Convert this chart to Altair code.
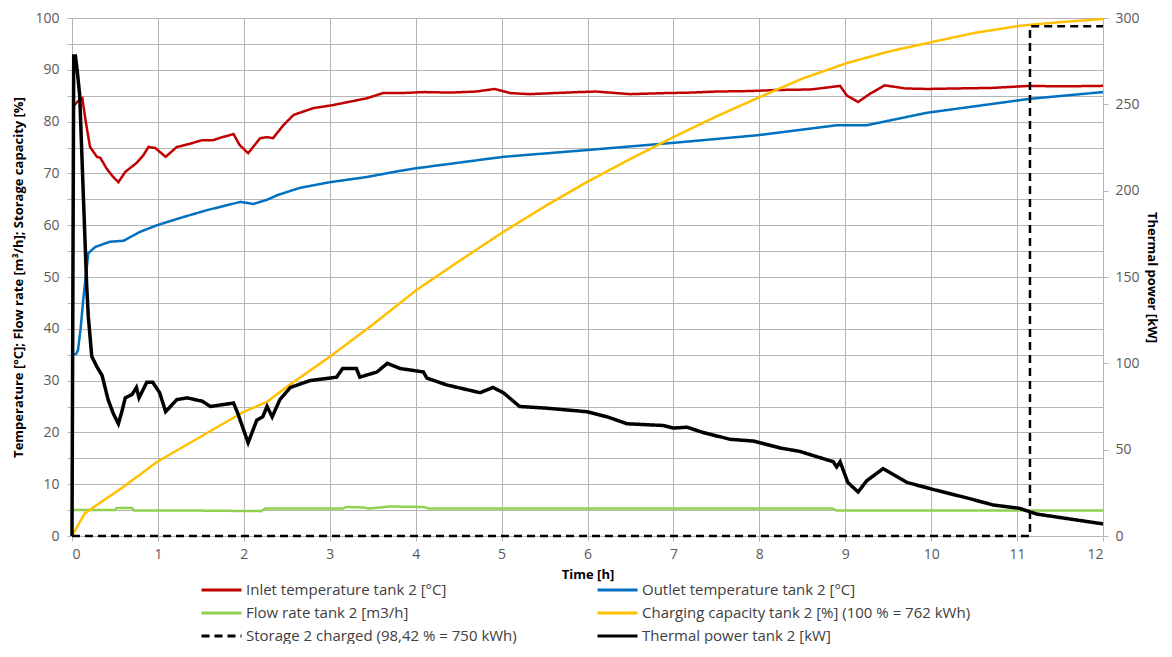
import altair as alt
import pandas as pd

# ---------------- data ----------------
inlet_t = [0.01, 0.06, 0.12, 0.16, 0.21, 0.29, 0.33, 0.40, 0.47, 0.54, 0.62, 0.75, 0.83, 0.89, 0.97,
           1.09, 1.22, 1.37, 1.51, 1.64, 1.75, 1.84, 1.88, 1.95, 2.05, 2.19, 2.27, 2.34, 2.46, 2.58,
           2.81, 3.04, 3.43, 3.62, 3.82, 4.1, 4.4, 4.7, 4.92, 5.1, 5.33, 5.6, 5.9, 6.1, 6.5, 6.9,
           7.2, 7.5, 7.9, 8.2, 8.6, 8.94, 9.02, 9.15, 9.3, 9.46, 9.7, 9.95, 10.3, 10.7, 11.15, 11.5, 12.0]
inlet_v = [82.8, 83.8, 84.5, 80.0, 75.1, 73.2, 73.0, 71.0, 69.5, 68.3, 70.3, 72.0, 73.5, 75.1, 74.9,
           73.2, 75.1, 75.7, 76.4, 76.4, 77.0, 77.4, 77.6, 75.5, 73.9, 76.8, 77.0, 76.8, 79.3, 81.3,
           82.6, 83.2, 84.5, 85.5, 85.5, 85.7, 85.6, 85.8, 86.3, 85.5, 85.3, 85.5, 85.7, 85.8, 85.3, 85.5,
           85.6, 85.8, 85.9, 86.1, 86.2, 86.9, 85.0, 83.8, 85.5, 87.0, 86.4, 86.3, 86.4, 86.5, 86.9, 86.8, 86.9]

outlet_t = [0.01, 0.05, 0.07, 0.10, 0.13, 0.19, 0.27, 0.44, 0.60, 0.79, 0.99, 1.26, 1.57, 1.96, 2.11,
            2.27, 2.39, 2.65, 3.0, 3.43, 3.82, 4.01, 5.02, 5.99, 7.0, 8.0, 8.9, 9.25, 9.95, 11.15, 12.0]
outlet_v = [35.0, 35.2, 35.9, 40.0, 45.5, 54.6, 55.8, 56.8, 57.0, 58.7, 60.0, 61.4, 62.9, 64.5, 64.1,
            64.9, 65.8, 67.2, 68.3, 69.3, 70.5, 71.0, 73.2, 74.5, 75.9, 77.4, 79.3, 79.3, 81.7, 84.4, 85.7]

flow_t = [0.0, 0.50, 0.52, 0.70, 0.72, 1.5, 2.2, 2.25, 3.15, 3.2, 3.4, 3.45, 3.7, 4.1, 4.15, 8.85, 8.9, 12.0]
flow_v = [5.0, 5.0, 5.4, 5.4, 4.9, 4.9, 4.8, 5.3, 5.3, 5.6, 5.5, 5.3, 5.7, 5.6, 5.3, 5.3, 4.9, 4.9]

charge_t = [0.0, 0.05, 0.15, 0.29, 0.6, 0.99, 1.49, 1.99, 2.27, 2.5, 3.0, 3.5, 4.01, 4.5, 5.02, 5.5,
            5.99, 6.5, 7.0, 7.5, 8.0, 8.5, 9.02, 9.5, 10.02, 10.5, 11.03, 11.5, 12.0]
charge_v = [0.0, 1.5, 4.4, 6.0, 9.5, 14.3, 19.1, 23.9, 25.9, 28.8, 34.6, 40.8, 47.5, 53.0, 58.7, 63.6,
            68.3, 72.8, 77.0, 81.0, 84.7, 88.3, 91.3, 93.5, 95.4, 97.1, 98.5, 99.2, 99.8]

stored_t = [0.0, 11.15, 11.15, 12.0]
stored_v = [0.0, 0.0, 98.42, 98.42]

power_t = [0.0, 0.02, 0.04, 0.06, 0.09, 0.13, 0.17, 0.19, 0.23, 0.29, 0.35, 0.42, 0.48, 0.54, 0.58,
           0.62, 0.70, 0.75, 0.78, 0.87, 0.94, 1.02, 1.09, 1.22, 1.34, 1.52, 1.61, 1.88, 1.93, 2.05,
           2.15, 2.22, 2.27, 2.33, 2.42, 2.54, 2.77, 3.08, 3.15, 3.31, 3.35, 3.55, 3.67, 3.82, 4.09,
           4.13, 4.36, 4.75, 4.90, 5.02, 5.21, 5.53, 5.99, 6.23, 6.46, 6.88, 7.0, 7.16, 7.34, 7.66,
           7.93, 8.24, 8.47, 8.86, 8.90, 8.94, 9.03, 9.15, 9.25, 9.44, 9.72, 10.02, 10.42, 10.72,
           11.03, 11.23, 12.0]
power_v = [0.0, 278, 278, 270, 255, 200, 146, 127, 104, 98, 93, 79, 71, 65, 72,
           80, 82, 86, 80, 89, 89, 83, 72, 79, 80, 78, 75, 77, 71, 54,
           67, 69, 75, 69, 79, 86, 90, 92, 97, 97, 92, 95, 100, 97, 95,
           91.5, 87.5, 83, 86, 83, 75, 74, 72, 69, 65, 64, 62.5, 63, 60, 56,
           55, 51, 49, 43, 40, 43, 31, 25.5, 32, 39, 31, 27, 22, 18,
           16, 12.7, 7]

# legend order (column-major in a 2-column legend)
names = ["Inlet temperature tank 2 [°C]", "Flow rate tank 2 [m3/h]",
         "Storage 2 charged (98,42 % = 750 kWh)", "Outlet temperature tank 2 [°C]",
         "Charging capacity tank 2 [%] (100 % = 762 kWh)", "Thermal power tank 2 [kW]"]
colors = ["#C00000", "#92D050", "#000000", "#0070C0", "#FFC000", "#000000"]
dashes = [[1, 0], [1, 0], [8, 5], [1, 0], [1, 0], [1, 0]]

x_ticks = list(range(0, 13))
left_ticks = list(range(0, 101, 5))
right_ticks = list(range(0, 301, 50))


def frame(name, ts, vs):
    return pd.DataFrame({"series": name, "t": ts, "v": vs, "i": range(len(ts))})


left_df = pd.concat([
    frame(names[0], inlet_t, inlet_v),
    frame(names[3], outlet_t, outlet_v),
    frame(names[1], flow_t, flow_v),
    frame(names[4], charge_t, charge_v),
    frame(names[2], stored_t, stored_v),
], ignore_index=True)
right_df = frame(names[5], power_t, power_v)

FONT = "Open Sans"
legend = alt.Legend(orient="none", legendX=128, legendY=564, columns=2, title=None,
                    symbolType="stroke", symbolSize=1600, symbolStrokeWidth=3,
                    labelFont=FONT, labelFontSize=15, labelColor="#404040", labelLimit=600,
                    labelOffset=3, columnPadding=79, rowPadding=7, clipHeight=16)

color = alt.Color("series:N", scale=alt.Scale(domain=names, range=colors), legend=legend)
dash = alt.StrokeDash("series:N", scale=alt.Scale(domain=names, range=dashes), legend=legend)

x_enc = alt.X("t:Q", scale=alt.Scale(domain=[0, 12], nice=False),
              axis=alt.Axis(values=x_ticks, title="Time [h]", grid=True, domain=False,
                            tickSize=5, labelPadding=6, titlePadding=7))

left = alt.Chart(left_df).mark_line(strokeWidth=2.5).encode(
    x=x_enc,
    y=alt.Y("v:Q", scale=alt.Scale(domain=[0, 100], nice=False),
            axis=alt.Axis(values=left_ticks, orient="left",
                          labelExpr="datum.value % 10 == 0 ? datum.label : ''",
                          title="Temperature [°C]; Flow rate [m³/h]; Storage capacity [%]",
                          grid=True, domain=False, tickSize=5, labelPadding=8, titlePadding=9)),
    color=color,
    strokeDash=dash,
    detail="series:N",
    order="i:Q",
)

right = alt.Chart(right_df).mark_line(strokeWidth=3.5).encode(
    x=x_enc,
    y=alt.Y("v:Q", scale=alt.Scale(domain=[0, 300], nice=False),
            axis=alt.Axis(values=right_ticks, orient="right", title="Thermal power [kW]",
                          grid=False, domain=False, tickSize=5, labelPadding=7, titlePadding=5)),
    color=color,
    strokeDash=dash,
    order="i:Q",
)

chart = alt.layer(left, right).resolve_scale(y="independent").properties(
    width=1031, height=518,
    autosize=alt.AutoSizeParams(type="none"),
    padding={"left": 64, "top": 10, "right": 61, "bottom": 108},
).configure_view(stroke=None).configure_axis(
    gridColor="#b5b5b5", gridWidth=1, tickColor="#b5b5b5",
    labelFont=FONT, labelFontSize=14, labelColor="#595959",
    titleFont=FONT, titleFontSize=13, titleFontWeight="bold", titleColor="#000000",
)

chart.save("out.html", embed_options={"renderer": "svg", "actions": False})
